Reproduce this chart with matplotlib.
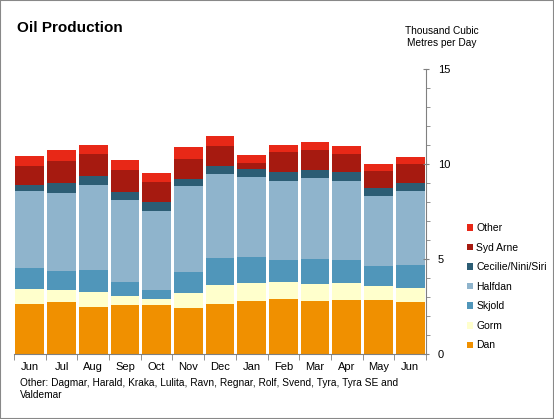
import matplotlib
matplotlib.use('Agg')
import matplotlib.pyplot as plt
from matplotlib.patches import Patch, Rectangle
from matplotlib.ticker import MultipleLocator
import numpy as np

plt.rcParams['font.family'] = ['Liberation Sans', 'DejaVu Sans']

# months and production by field (thousand m3 per day)
months = ['Jun', 'Jul', 'Aug', 'Sep', 'Oct', 'Nov', 'Dec',
          'Jan', 'Feb', 'Mar', 'Apr', 'May', 'Jun']
dan     = [2.64, 2.75, 2.48, 2.59, 2.59, 2.43, 2.64, 2.80, 2.91, 2.80, 2.85, 2.85, 2.75]
gorm    = [0.79, 0.63, 0.79, 0.47, 0.31, 0.79, 1.00, 0.95, 0.89, 0.90, 0.90, 0.74, 0.74]
skjold  = [1.11, 1.00, 1.17, 0.74, 0.48, 1.11, 1.43, 1.37, 1.17, 1.32, 1.22, 1.06, 1.21]
halfdan = [4.02, 4.07, 4.43, 4.28, 4.12, 4.49, 4.39, 4.18, 4.12, 4.22, 4.12, 3.64, 3.86]
cecilie = [0.31, 0.53, 0.48, 0.42, 0.48, 0.37, 0.42, 0.42, 0.47, 0.43, 0.47, 0.43, 0.42]
syd_arne = [1.01, 1.16, 1.16, 1.17, 1.05, 1.06, 1.05, 0.32, 1.06, 1.05, 0.95, 0.89, 1.00]
other   = [0.53, 0.58, 0.49, 0.53, 0.48, 0.63, 0.53, 0.42, 0.37, 0.43, 0.42, 0.37, 0.37]

series = [('Dan', dan, '#f09000'),
          ('Gorm', gorm, '#ffffcc'),
          ('Skjold', skjold, '#5096ba'),
          ('Halfdan', halfdan, '#8fb4cc'),
          ('Cecilie/Nini/Siri', cecilie, '#2c5d74'),
          ('Syd Arne', syd_arne, '#a61a10'),
          ('Other', other, '#e82817')]

fig = plt.figure(figsize=(5.54, 4.19), dpi=100)
ax = fig.add_axes([14/554, 65/419, 412/554, 285/419])

x = np.arange(len(months))
bottom = np.zeros(len(months))
for name, vals, col in series:
    ax.bar(x, vals, bottom=bottom, width=0.91, color=col, linewidth=0)
    bottom += np.array(vals)

ax.set_xlim(-0.5, len(months) - 0.5)
ax.set_ylim(0, 15)

# axes styling
for s in ['top', 'left']:
    ax.spines[s].set_visible(False)
ax.spines['right'].set_color('#808080')
ax.spines['bottom'].set_color('#808080')
ax.yaxis.tick_right()
ax.yaxis.set_major_locator(MultipleLocator(5))
ax.yaxis.set_minor_locator(MultipleLocator(1))
ax.tick_params(axis='y', which='major', direction='inout', length=5,
               color='#808080', labelsize=8, pad=6)
ax.tick_params(axis='y', which='minor', direction='out', length=3,
               color='#808080')

ax.set_xticks(x)
ax.set_xticklabels(months)
ax.set_xticks(np.arange(len(months) + 1) - 0.5, minor=True)
ax.tick_params(axis='x', which='major', length=0, labelsize=8, pad=6)
ax.tick_params(axis='x', which='minor', direction='out', length=4,
               color='#808080')

fig.text(17/554, 1 - 28/419, 'Oil Production', fontsize=11,
         fontweight='bold', va='center', ha='left')
fig.text(442/554, 1 - 37/419, 'Thousand Cubic\nMetres per Day', fontsize=7.3,
         ha='center', va='center', linespacing=1.35)
fig.text(20/554, 1 - 389/419,
         'Other: Dagmar, Harald, Kraka, Lulita, Ravn, Regnar, Rolf, Svend, Tyra, Tyra SE and\nValdemar',
         fontsize=7.3, ha='left', va='center', linespacing=1.3)

handles = [Patch(facecolor=col, edgecolor='none', label=name)
           for name, vals, col in series[::-1]]
fig.legend(handles=handles, loc='upper left',
           bbox_to_anchor=(467/554, 1 - 223/419), frameon=False,
           fontsize=7.5, handlelength=0.6, handleheight=0.6,
           handletextpad=0.3, labelspacing=0.92, borderpad=0, borderaxespad=0)

fig.patches.append(Rectangle((0, 0), 1, 1, transform=fig.transFigure,
                             fill=False, edgecolor='#888888', linewidth=1.5))

fig.savefig('out.png', dpi=100)
